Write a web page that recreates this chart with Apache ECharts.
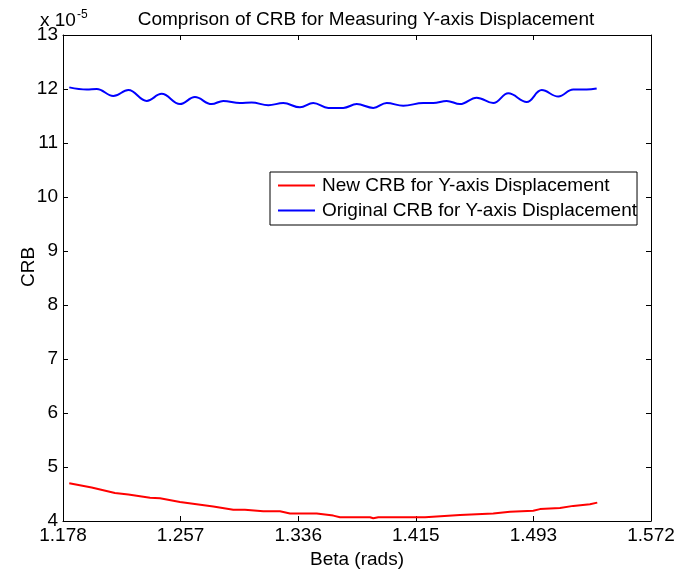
<!DOCTYPE html>
<html>
<head>
<meta charset="utf-8">
<script src="https://cdn.jsdelivr.net/npm/echarts@6/dist/echarts.min.js"></script>
<style>
  html, body { margin: 0; padding: 0; background: #fff; }
  #chart { width: 677px; height: 569px; }
</style>
</head>
<body>
<div id="chart"></div>
<script>
// Beta (rads) sample positions and CRB values (in units of 1e-5)
const betaOriginal = [1.1822, 1.1939, 1.2006, 1.2117, 1.2218, 1.2341, 1.2441, 1.2564, 1.2664, 1.2776,
  1.2854, 1.2966, 1.3044, 1.3156, 1.3256, 1.3368, 1.3457, 1.3558, 1.3658, 1.3748, 1.3859, 1.3949,
  1.4060, 1.4194, 1.4261, 1.4351, 1.4440, 1.4552, 1.4663, 1.4764, 1.4887, 1.4988, 1.5099, 1.5199,
  1.5289, 1.5356];
const crbOriginal = [12.03, 11.99, 12.00, 11.87, 11.98, 11.78, 11.91, 11.72, 11.85, 11.72,
  11.78, 11.74, 11.75, 11.70, 11.74, 11.66, 11.74, 11.65, 11.65, 11.72, 11.65, 11.74,
  11.69, 11.74, 11.74, 11.78, 11.72, 11.84, 11.74, 11.92, 11.76, 11.98, 11.86, 11.99,
  11.99, 12.01];

const betaNew = [1.1822, 1.1972, 1.2128, 1.2218, 1.2363, 1.2430, 1.2564, 1.2787, 1.2921, 1.2999,
  1.3122, 1.3234, 1.3301, 1.3480, 1.3591, 1.3636, 1.3837, 1.3859, 1.3893, 1.4206, 1.4440,
  1.4663, 1.4775, 1.4931, 1.4976, 1.5110, 1.5199, 1.5311, 1.5360];
const crbNew = [4.70, 4.62, 4.52, 4.49, 4.43, 4.42, 4.35, 4.27, 4.21, 4.21,
  4.18, 4.18, 4.14, 4.14, 4.10, 4.07, 4.07, 4.05, 4.07, 4.07, 4.11,
  4.14, 4.17, 4.19, 4.22, 4.24, 4.28, 4.31, 4.34];

const xTickValues = [1.178, 1.2568, 1.3356, 1.4144, 1.4932, 1.572];
const xTickLabels = ['1.178', '1.257', '1.336', '1.415', '1.493', '1.572'];

const seriesNames = ['New CRB for Y-axis Displacement', 'Original CRB for Y-axis Displacement'];

const FONT = 'Liberation Sans, Arial, sans-serif';
const FS = 19;

function pairs(xs, ys) { return xs.map((x, i) => [x, ys[i]]); }

const chart = echarts.init(document.getElementById('chart'), null, { renderer: 'canvas' });

const axisLine = { show: true, onZero: false, lineStyle: { color: '#000', width: 1 } };
const tickIn = { show: true, inside: true, length: 5, lineStyle: { color: '#000', width: 1 } };

chart.setOption({
  animation: false,
  backgroundColor: '#fff',
  textStyle: { fontFamily: FONT },
  title: {
    text: 'Comprison of CRB for Measuring Y-axis Displacement',
    left: 361, top: 5, textAlign: 'center',
    textStyle: { fontFamily: FONT, fontSize: FS, fontWeight: 'normal', color: '#000' }
  },
  grid: { left: 63, right: 26, top: 35, bottom: 48, containLabel: false, outerBoundsMode: 'none' },
  legend: {
    orient: 'vertical',
    left: 270, top: 172,
    data: seriesNames,
    icon: 'rect',
    itemWidth: 37, itemHeight: 2, itemGap: 6,
    padding: [4, 0, 5, 8],
    borderColor: '#000', borderWidth: 1, backgroundColor: '#fff',
    textStyle: { fontFamily: FONT, fontSize: FS, color: '#000', padding: [0, 0, 0, 2] },
    selectedMode: false
  },
  xAxis: [
    {
      type: 'value', position: 'bottom', min: 1.178, max: 1.572,
      name: 'Beta (rads)', nameLocation: 'middle', nameGap: 24,
      nameTextStyle: { fontFamily: FONT, fontSize: FS, color: '#000' },
      axisLine: axisLine,
      axisTick: Object.assign({ customValues: xTickValues }, tickIn),
      axisLabel: {
        customValues: xTickValues, margin: 5, color: '#000', fontFamily: FONT, fontSize: FS,
        formatter: v => {
          let best = 0;
          xTickValues.forEach((t, i) => { if (Math.abs(t - v) < Math.abs(xTickValues[best] - v)) best = i; });
          return xTickLabels[best];
        }
      },
      splitLine: { show: false }
    },
    {
      type: 'value', position: 'top', min: 1.178, max: 1.572,
      axisLine: axisLine,
      axisTick: Object.assign({ customValues: xTickValues }, tickIn),
      axisLabel: { show: false, customValues: xTickValues },
      splitLine: { show: false }
    }
  ],
  yAxis: [
    {
      type: 'value', position: 'left', min: 4, max: 13, interval: 1,
      axisLine: axisLine, axisTick: tickIn,
      axisLabel: { margin: 5, color: '#000', fontFamily: FONT, fontSize: FS },
      splitLine: { show: false }
    },
    {
      type: 'value', position: 'right', min: 4, max: 13, interval: 1,
      axisLine: axisLine, axisTick: tickIn,
      axisLabel: { show: false },
      splitLine: { show: false }
    }
  ],
  graphic: [
    {
      type: 'text', x: 29, y: 267, rotation: Math.PI / 2,
      style: { x: 0, y: 0, text: 'CRB', font: FS + 'px ' + FONT, fill: '#000', align: 'center', verticalAlign: 'middle' }
    },
    {
      type: 'text', left: 40, top: 9,
      style: {
        text: '{b|x 10}{s|-5}',
        rich: {
          b: { font: FS + 'px ' + FONT, fill: '#000', verticalAlign: 'bottom' },
          s: { font: '12px ' + FONT, fill: '#000', padding: [0, 0, 9, 1], verticalAlign: 'bottom' }
        }
      }
    }
  ],
  series: [
    {
      name: seriesNames[0], type: 'line', xAxisIndex: 0, yAxisIndex: 0,
      data: pairs(betaNew, crbNew), symbol: 'none', smooth: false,
      lineStyle: { color: '#ff0000', width: 2 }, itemStyle: { color: '#ff0000' }
    },
    {
      name: seriesNames[1], type: 'line', xAxisIndex: 0, yAxisIndex: 0,
      data: pairs(betaOriginal, crbOriginal), symbol: 'none', smooth: 0.4,
      lineStyle: { color: '#0000ff', width: 2 }, itemStyle: { color: '#0000ff' }
    }
  ]
});
</script>
</body>
</html>
